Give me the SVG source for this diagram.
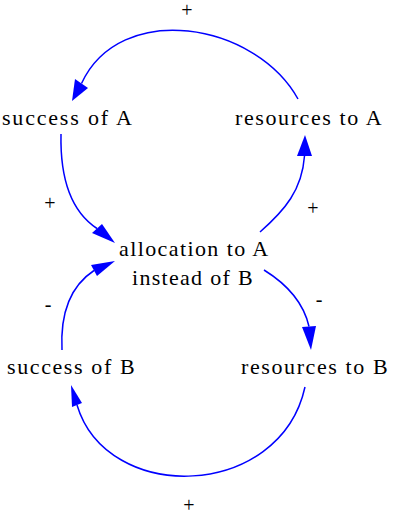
<svg xmlns="http://www.w3.org/2000/svg" width="398" height="517" viewBox="0 0 398 517">
<style>
  .edge { fill: none; stroke: #0000ff; stroke-width: 1.5; }
  .head { fill: #0000ff; stroke: none; }
</style>
<rect width="398" height="517" fill="#ffffff"/>
<g id="connectors">
  <path id="e1" class="edge" d="M298,99 C255,22 120,0 81.5,83.5"/>
  <polygon class="head" points="72,101 75,79 88,88"/>
  <path id="e2" class="edge" d="M61,134 C60,180 72,212 97,228.5"/>
  <polygon class="head" points="115,243 92,233 102,224"/>
  <path id="e3" class="edge" d="M260,232 C285,210 302,190 304.5,156"/>
  <polygon class="head" points="305,135 297,156 312,156"/>
  <path id="e4" class="edge" d="M62,350 C60,310 72,285 94,270.5"/>
  <polygon class="head" points="115,261 91,265 97,276"/>
  <path id="e5" class="edge" d="M264,270 C285,283 303,300 309,326.5"/>
  <polygon class="head" points="311,350 302,327 316,326"/>
  <path id="e6" class="edge" d="M305,387 C280,500 107,505 77,405"/>
  <polygon class="head" points="71,385 72,407 82,403"/>
  <text x="187" y="17" font-family="Liberation Serif" font-size="20" text-anchor="middle">+</text>
  <text x="50" y="210" font-family="Liberation Serif" font-size="20" text-anchor="middle">+</text>
  <text x="313" y="215" font-family="Liberation Serif" font-size="20" text-anchor="middle">+</text>
  <text x="48" y="311" font-family="Liberation Serif" font-size="20" text-anchor="middle">-</text>
  <text x="319" y="306" font-family="Liberation Serif" font-size="20" text-anchor="middle">-</text>
  <text x="189" y="512" font-family="Liberation Serif" font-size="20" text-anchor="middle">+</text>
</g>
<g id="success_of_A"><text x="2" y="125" font-family="Liberation Serif" font-size="22" letter-spacing="1.8">success of A</text></g>
<g id="resources_to_A"><text x="235" y="125" font-family="Liberation Serif" font-size="22" letter-spacing="1.6">resources to A</text></g>
<g id="allocation"><text x="119" y="256" font-family="Liberation Serif" font-size="22" letter-spacing="1.4">allocation to A</text><text x="132" y="285" font-family="Liberation Serif" font-size="22" letter-spacing="1.3">instead of B</text></g>
<g id="success_of_B"><text x="7" y="374" font-family="Liberation Serif" font-size="22" letter-spacing="1.6">success of B</text></g>
<g id="resources_to_B"><text x="241" y="374" font-family="Liberation Serif" font-size="22" letter-spacing="1.6">resources to B</text></g>
</svg>
